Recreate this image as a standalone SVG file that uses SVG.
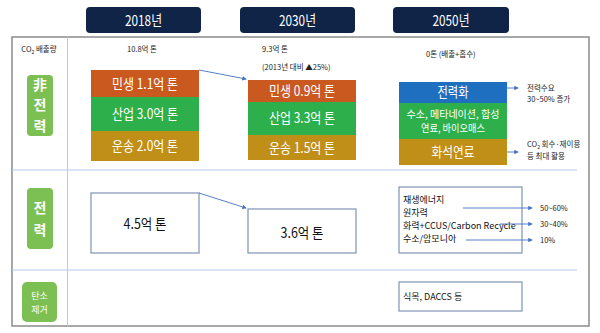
<svg xmlns="http://www.w3.org/2000/svg" width="600" height="333" viewBox="0 0 600 333">
<defs>
<style>
text{font-family:"Noto Sans CJK KR","Noto Sans",sans-serif}
.hdr{fill:#0f2447}
.ht{fill:#fff;font-size:15px;text-anchor:middle}
.pill{fill:#7cbf52}
.pt{fill:#fff;font-size:14px;text-anchor:middle;font-weight:bold}
.pts{fill:#fff;font-size:9px;text-anchor:middle}
.sm{fill:#222;font-size:7.5px}
.seg{fill:#fff;font-size:14px;text-anchor:middle}
.segs{fill:#fff;font-size:10px;text-anchor:middle}
.wb{fill:#fff;stroke:#7f93b5;stroke-width:1.2}
.bt{fill:#111;font-size:14px;text-anchor:middle}
.lt{fill:#111;font-size:9px}
.div{stroke:#b5cbe8;stroke-width:1;fill:none}
.con{stroke:#4472c4;stroke-width:0.9;fill:none}
.or{fill:#c9591f}.gr{fill:#2db04b}.gd{fill:#bf8f18}.bl{fill:#1f6fc1}
</style>
<marker id="ah" viewBox="0 0 6 6" refX="5" refY="3" markerWidth="5" markerHeight="5" orient="auto">
<path d="M0,0 L6,3 L0,6 z" fill="#4472c4"/>
</marker>
</defs>
<rect width="600" height="333" fill="#fff"/>

<g id="headers">
<rect class="hdr" x="86" y="7" width="115" height="26" rx="4"/>
<text class="ht" x="143.5" y="26" textLength="37" lengthAdjust="spacingAndGlyphs">2018년</text>
<rect class="hdr" x="240" y="7" width="115" height="26" rx="4"/>
<text class="ht" x="297.5" y="26" textLength="37" lengthAdjust="spacingAndGlyphs">2030년</text>
<rect class="hdr" x="393" y="7" width="116" height="26" rx="4"/>
<text class="ht" x="451" y="26" textLength="37" lengthAdjust="spacingAndGlyphs">2050년</text>
</g>

<g id="frame">
<rect x="12" y="37" width="577" height="289" fill="none" stroke="#8a8a8a" stroke-width="1.5"/>
<line class="div" x1="67.5" y1="37" x2="67.5" y2="326"/>
<line class="div" x1="12" y1="170" x2="577" y2="170"/>
<line class="div" x1="12" y1="270" x2="577" y2="270"/>
</g>

<g id="row-labels">
<text class="sm" x="39" y="52" text-anchor="middle">CO<tspan font-size="5" dy="2">2</tspan><tspan dy="-2"> 배출량</tspan></text>
<g id="label-nonpower">
<rect class="pill" x="27" y="75" width="26" height="61" rx="4"/>
<text class="pt" x="40" y="90">非</text>
<text class="pt" x="40" y="110">전</text>
<text class="pt" x="40" y="131">력</text>
</g>
<g id="label-power">
<rect class="pill" x="27" y="188" width="26" height="61" rx="4"/>
<text class="pt" x="40" y="213">전</text>
<text class="pt" x="40" y="235">력</text>
</g>
<g id="label-removal">
<rect class="pill" x="22" y="282" width="35" height="40" rx="5"/>
<text class="pts" x="39.5" y="299">탄소</text>
<text class="pts" x="39.5" y="313">제거</text>
</g>
</g>

<g id="col2018-total"><text class="sm" x="142" y="52" text-anchor="middle">10.8억 톤</text></g>
<g id="col2030-total">
<text class="sm" x="262" y="52">9.3억 톤</text>
<text class="sm" x="262" y="70">(2013년 대비 ▲25%)</text>
</g>
<g id="col2050-total"><text class="sm" x="426" y="57">0톤 (배출+흡수)</text></g>

<g id="stack2018">
<rect class="or" x="91" y="70" width="108" height="27"/>
<text class="seg" x="145" y="89" textLength="66" lengthAdjust="spacingAndGlyphs">민생 1.1억 톤</text>
<rect class="gr" x="91" y="97" width="108" height="34"/>
<text class="seg" x="145" y="119" textLength="66" lengthAdjust="spacingAndGlyphs">산업 3.0억 톤</text>
<rect class="gd" x="91" y="131" width="108" height="30"/>
<text class="seg" x="145" y="151" textLength="66" lengthAdjust="spacingAndGlyphs">운송 2.0억 톤</text>
</g>

<g id="stack2030">
<rect class="or" x="248" y="80" width="108" height="22"/>
<text class="seg" x="302" y="96" textLength="66" lengthAdjust="spacingAndGlyphs">민생 0.9억 톤</text>
<rect class="gr" x="248" y="102" width="108" height="33"/>
<text class="seg" x="302" y="123" textLength="66" lengthAdjust="spacingAndGlyphs">산업 3.3억 톤</text>
<rect class="gd" x="248" y="135" width="108" height="25"/>
<text class="seg" x="302" y="153" textLength="66" lengthAdjust="spacingAndGlyphs">운송 1.5억 톤</text>
</g>

<g id="stack2050">
<rect class="bl" x="399" y="82" width="108" height="21"/>
<text class="seg" x="453" y="97" textLength="31" lengthAdjust="spacingAndGlyphs">전력화</text>
<rect class="gr" x="399" y="103" width="108" height="36"/>
<text class="segs" x="453" y="118" textLength="93" lengthAdjust="spacingAndGlyphs">수소, 메타네이션, 합성</text>
<text class="segs" x="453" y="132" textLength="64" lengthAdjust="spacingAndGlyphs">연료, 바이오매스</text>
<rect class="gd" x="399" y="139" width="108" height="26"/>
<text class="seg" x="453" y="157" textLength="43" lengthAdjust="spacingAndGlyphs">화석연료</text>
</g>

<g id="notes2050">
<text class="sm" x="527" y="91">전력수요</text>
<text class="sm" x="527" y="102">30~50% 증가</text>
<text class="sm" x="527" y="147">CO<tspan font-size="5" dy="2">2</tspan><tspan dy="-2"> 회수·재이용</tspan></text>
<text class="sm" x="527" y="159">등 최대 활용</text>
</g>

<g id="power2018">
<rect class="wb" x="91" y="193" width="108" height="60"/>
<text class="bt" x="145" y="229" textLength="43" lengthAdjust="spacingAndGlyphs">4.5억 톤</text>
</g>
<g id="power2030">
<rect class="wb" x="248" y="209" width="108" height="44"/>
<text class="bt" x="302" y="238" textLength="43" lengthAdjust="spacingAndGlyphs">3.6억 톤</text>
</g>
<g id="power2050">
<rect class="wb" x="399" y="187" width="123" height="66"/>
<text class="lt" x="403" y="203">재생에너지</text>
<text class="lt" x="403" y="216">원자력</text>
<text class="lt" x="403" y="229">화력+CCUS/Carbon Recycle</text>
<text class="lt" x="403" y="242">수소/암모니아</text>
<text class="sm" x="540" y="211">50~60%</text>
<text class="sm" x="540" y="227">30~40%</text>
<text class="sm" x="540" y="243">10%</text>
</g>
<g id="removal2050">
<rect class="wb" x="399" y="282" width="123" height="29"/>
<text class="lt" x="403" y="300">식목, DACCS 등</text>
</g>

<g id="connectors">
<line class="con" x1="199" y1="70" x2="246" y2="79" marker-end="url(#ah)"/>
<line class="con" x1="199" y1="193" x2="246" y2="208" marker-end="url(#ah)"/>
<line class="con" x1="507" y1="88" x2="518" y2="88" marker-end="url(#ah)"/>
<line class="con" x1="507" y1="152" x2="518" y2="152" marker-end="url(#ah)"/>
<line class="con" x1="463" y1="208" x2="532" y2="208" marker-end="url(#ah)"/>
<line class="con" x1="500" y1="224" x2="532" y2="224" marker-end="url(#ah)"/>
<line class="con" x1="466" y1="240" x2="532" y2="240" marker-end="url(#ah)"/>
</g>
</svg>
